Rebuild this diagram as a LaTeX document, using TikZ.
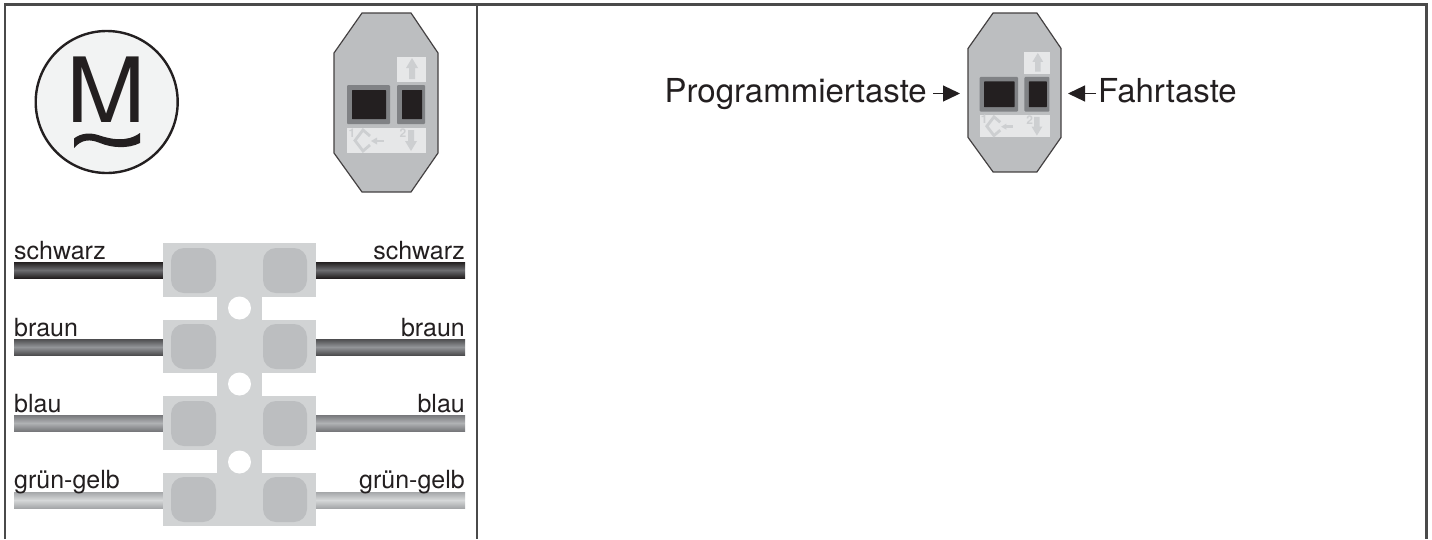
\documentclass[tikz,border=0pt]{standalone}
\usepackage{fontspec}
\setmainfont{TeX Gyre Heros}
\usetikzlibrary{arrows.meta}
\definecolor{frameC}{HTML}{4A4A4A}
\definecolor{ink}{HTML}{231F20}
\definecolor{blockC}{HTML}{D1D3D4}
\definecolor{padC}{HTML}{BCBEC0}
\definecolor{keyEdge}{HTML}{808285}
\definecolor{symC}{HTML}{E6E7E8}
\definecolor{symD}{HTML}{CDCFD1}
\tikzset{
 x=1pt,y=-1pt,
 frameline/.style={draw=frameC,line width=2.2pt},
 lbl/.style={font=\fontsize{25}{25}\selectfont,text=ink,inner sep=0pt},
 big/.style={font=\fontsize{33}{33}\selectfont,text=ink,inner sep=0pt},
 pad/.style={fill=padC,rounded corners=13pt},
 tipline/.style={draw=ink,line width=1.2pt,-{Triangle[length=17pt,width=16pt]}},
 sym/.style={draw=symD,line width=2.8pt},
 num/.style={inner sep=0pt,text=symD,font=\fontsize{12}{12}\selectfont\bfseries},
}
\newcommand{\device}[4]{% x, y, xscale, yscale
\begin{scope}[shift={(#1,#2)},x=#3pt,y=-#4pt]
 \draw[ink!85!white,fill=padC,line width=1.2pt] (28,0)--(77,0)--(104,40)--(104,140)--(77,179)--(28,179)--(0,140)--(0,40)--cycle;
 \fill[symC] (63,44) rectangle (92,69);
 \fill[symC] (13,115) rectangle (92,140);
 \fill[symD] (75,66)--(75,55)--(72,55)--(78,45)--(84,55)--(81,55)--(81,66)--cycle;
 \fill[keyEdge,rounded corners=1pt] (13,72) rectangle (56,111);
 \fill[ink,rounded corners=.5pt] (18,77) rectangle (52,106);
 \fill[keyEdge,rounded corners=1pt] (63,72) rectangle (91,111);
 \fill[ink,rounded corners=.5pt] (68,77) rectangle (88,106);
 \draw[sym] (36,123)--(29,117)--(21,127.5)--(29,138)--(36,132);
 \draw[symD,line width=2.6pt] (41,128)--(50,128);
 \fill[symD] (37,128)--(43,124.5)--(43,131.5)--cycle;
 \fill[symD] (74,117)--(80,117)--(80,128)--(83,128)--(77,138)--(71,128)--(74,128)--cycle;
 \node[num] at (18,120) {1};
 \node[num] at (69,120.5) {2};
\end{scope}}
\begin{document}
\begin{tikzpicture}
\useasboundingbox (0,0) rectangle (1432,539);
\fill[white] (0,0) rectangle (1432,539);
% frame
\draw[frameline] (5,539)--(5,4.5)--(1426.5,4.5)--(1426.5,539);
\draw[frameline] (477.3,4.5)--(477.3,539);
% motor
\node[circle,draw=ink,fill=symC!50!white,line width=2.4pt,minimum size=142pt,inner sep=0pt] (motor) at (106.7,102) {};
\node[inner sep=0pt,text=ink,font=\fontsize{90}{90}\selectfont,xscale=1.06] (mletter) at (106.5,89.5) {M};
\fill[ink] (74,138.5) .. controls (81,133) and (90,132.5) .. (98,135) .. controls (110,139) and (126,143) .. (140,133) -- (140,143) .. controls (128,149) and (112,148) .. (100,143) .. controls (90,139) and (82,139) .. (74,148) -- cycle;
% devices
\device{334}{13}{1}{1}
\device{968}{13}{.895}{.888}
% wires
\foreach \ya/\d/\m in {262/231F20/6D6E71,339/4D4D4F/939598,415/77787B/B0B2B4,492/A5A7A9/D6D8D9}{
 \definecolor{wd}{HTML}{\d}\definecolor{wm}{HTML}{\m}
 \shade[top color=wd,bottom color=wd,middle color=wm] (14,\ya) rectangle (163,\ya+16);
 \shade[top color=wd,bottom color=wd,middle color=wm] (316,\ya) rectangle (465,\ya+16);
}
% terminal block
\fill[blockC] (163,243) rectangle (316,297);
\fill[blockC] (163,320) rectangle (316,373);
\fill[blockC] (163,396) rectangle (316,450);
\fill[blockC] (163,473) rectangle (316,526);
\fill[blockC] (217,243) rectangle (262,526);
\foreach \cy in {308,384,462}{\fill[white] (239.5,\cy) circle (11.5);}
\foreach \py in {248,324,401,477}{
 \fill[pad] (171,\py) rectangle (216,\py+45);
 \fill[pad] (263,\py) rectangle (307,\py+45);
}
% labels
\node[lbl,anchor=base west] (l1) at (14,259) {schwarz};
\node[lbl,anchor=base west] (l2) at (14,336) {braun};
\node[lbl,anchor=base west] (l3) at (14,412) {blau};
\node[lbl,anchor=base west] (l4) at (14,488.5) {grün-gelb};
\node[lbl,anchor=base east] (r1) at (465,259) {schwarz};
\node[lbl,anchor=base east] (r2) at (465,336) {braun};
\node[lbl,anchor=base east] (r3) at (465,412) {blau};
\node[lbl,anchor=base east] (r4) at (465,488.5) {grün-gelb};
% right panel
\node[big,anchor=base east] (prog) at (927,102.5) {Programmiertaste};
\node[big,anchor=base west] (fahrt) at (1098,102.5) {Fahrtaste};
\coordinate (progtail) at (933,93.5);
\coordinate (progtip) at (960,93.5);
\coordinate (fahrttail) at (1096,93.5);
\coordinate (fahrttip) at (1068,93.5);
\draw[tipline] (progtail) -- (progtip);
\draw[tipline] (fahrttail) -- (fahrttip);
\end{tikzpicture}
\end{document}
